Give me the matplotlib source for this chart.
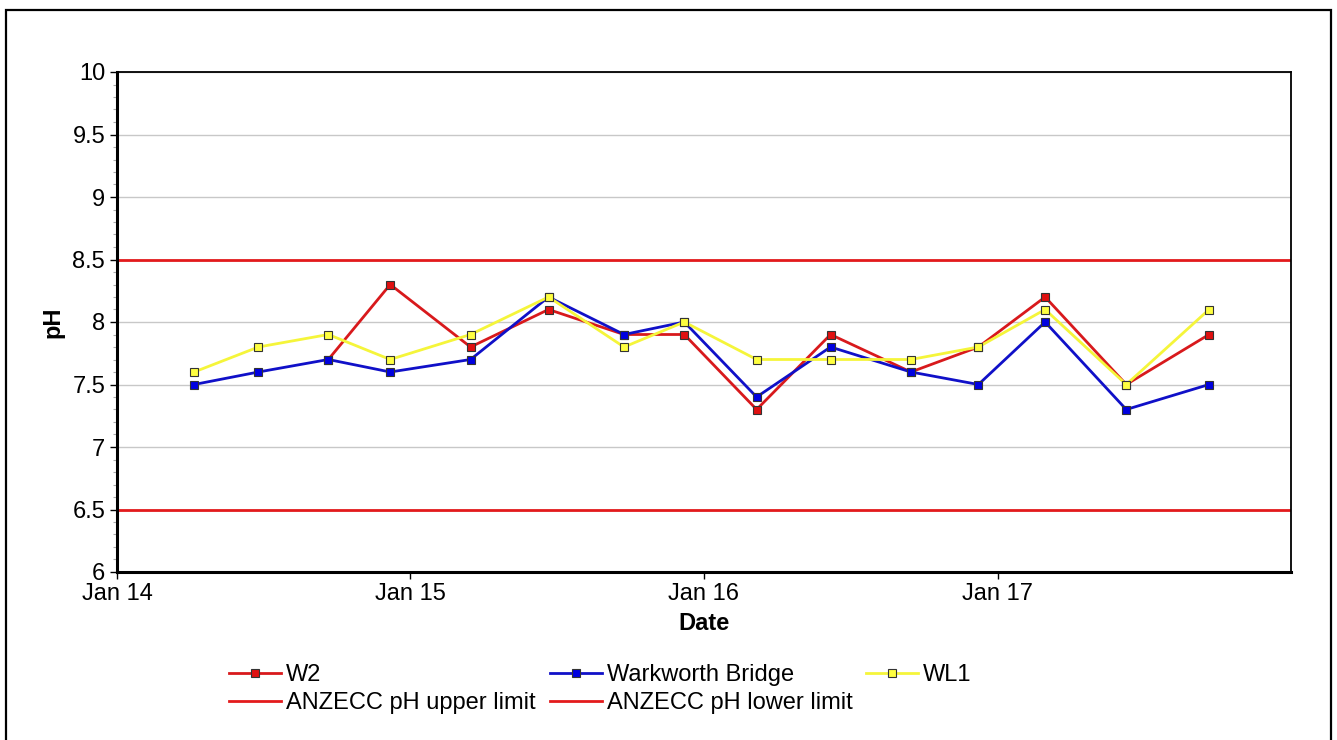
import datetime as dt
import matplotlib
matplotlib.use("Agg")
import matplotlib.pyplot as plt
from matplotlib.patches import Rectangle
from matplotlib.ticker import MultipleLocator, FuncFormatter

plt.rcParams['font.family'] = ['Liberation Sans', 'DejaVu Sans']

# sampling dates (quarterly monitoring)
dates = [dt.date(2014, 4, 7), dt.date(2014, 6, 26), dt.date(2014, 9, 21), dt.date(2014, 12, 7),
         dt.date(2015, 3, 17), dt.date(2015, 6, 22), dt.date(2015, 9, 24), dt.date(2015, 12, 8),
         dt.date(2016, 3, 7), dt.date(2016, 6, 7), dt.date(2016, 9, 15), dt.date(2016, 12, 8),
         dt.date(2017, 3, 1), dt.date(2017, 6, 10), dt.date(2017, 9, 21)]

w2_dates = dates[2:]
w2 = [7.7, 8.3, 7.8, 8.1, 7.9, 7.9, 7.3, 7.9, 7.6, 7.8, 8.2, 7.5, 7.9]
warkworth = [7.5, 7.6, 7.7, 7.6, 7.7, 8.2, 7.9, 8.0, 7.4, 7.8, 7.6, 7.5, 8.0, 7.3, 7.5]
wl1 = [7.6, 7.8, 7.9, 7.7, 7.9, 8.2, 7.8, 8.0, 7.7, 7.7, 7.7, 7.8, 8.1, 7.5, 8.1]

upper_limit = 8.5
lower_limit = 6.5

year_ticks = [dt.date(2014, 1, 1), dt.date(2015, 1, 1), dt.date(2016, 1, 1), dt.date(2017, 1, 1)]
year_labels = ['Jan 14', 'Jan 15', 'Jan 16', 'Jan 17']

fig = plt.figure(figsize=(13.37, 7.4), dpi=100, facecolor='w')
ax = fig.add_axes([117 / 1337, 1 - 572 / 740, (1291 - 117) / 1337, 500 / 740])

# outer chart border
fig.add_artist(Rectangle((6 / 1337, -0.02), 1325 / 1337, 1 - 10 / 740 + 0.02,
                         transform=fig.transFigure, fill=False, edgecolor='black', linewidth=1.6))

ax.yaxis.grid(True, color='#c8c8c8', linewidth=1.0)
ax.set_axisbelow(True)

l_up = ax.axhline(upper_limit, color='#e31a1c', linewidth=2.0, label='ANZECC pH upper limit')
l_lo = ax.axhline(lower_limit, color='#e31a1c', linewidth=2.0, label='ANZECC pH lower limit')

mk = dict(marker='s', markersize=6, markeredgecolor='#333333', markeredgewidth=0.8, linewidth=2.0)
l_w2, = ax.plot(w2_dates, w2, color='#d8191c', markerfacecolor='#e01010', label='W2', **mk)
l_wb, = ax.plot(dates, warkworth, color='#1010c8', markerfacecolor='#0000e0', label='Warkworth Bridge', **mk)
l_wl, = ax.plot(dates, wl1, color='#f5f53a', markerfacecolor='#ffff40', label='WL1', **mk)

ax.set_xlim(dt.date(2014, 1, 1), dt.date(2018, 1, 1))
ax.set_ylim(6, 10)
ax.set_xticks(year_ticks)
ax.set_xticklabels(year_labels)
ax.yaxis.set_major_locator(MultipleLocator(0.5))
ax.yaxis.set_minor_locator(MultipleLocator(0.1))
ax.yaxis.set_major_formatter(FuncFormatter(lambda v, p: '%g' % v))
ax.tick_params(axis='both', labelsize=17, direction='out', length=5, width=1)
ax.tick_params(axis='y', which='minor', length=3, width=0.8, color='#aaaaaa')
ax.tick_params(axis='x', pad=3)

for s in ['left', 'bottom']:
    ax.spines[s].set_linewidth(2.2)
for s in ['top', 'right']:
    ax.spines[s].set_linewidth(1.3)

ax.set_xlabel('Date', fontsize=17, fontweight='bold', labelpad=5)
ax.set_ylabel('pH', fontsize=17, fontweight='bold', labelpad=6)

handles = [l_w2, l_up, l_wb, l_lo, l_wl]
fig.legend(handles=handles, labels=[h.get_label() for h in handles], ncol=3,
           loc='upper left', bbox_to_anchor=(220 / 1337, 1 - 655 / 740), frameon=False,
           fontsize=17, handlelength=2.2, handletextpad=0.2, columnspacing=0.6,
           labelspacing=0.25, borderaxespad=0)

fig.savefig('out.png', dpi=100, facecolor='w')
